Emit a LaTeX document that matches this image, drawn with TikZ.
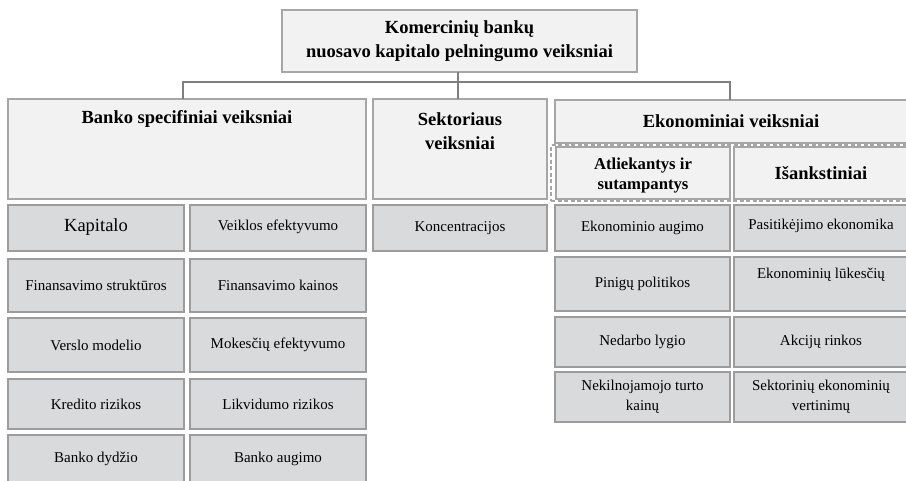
\documentclass[tikz,border=0pt]{standalone}
\usepackage{fontspec}
\setmainfont{Liberation Serif}
\definecolor{hdrfill}{HTML}{F2F2F2}
\definecolor{hdrline}{HTML}{A6A6A6}
\definecolor{cellfill}{HTML}{D9DADC}
\definecolor{cellline}{HTML}{9C9C9C}
\definecolor{connline}{HTML}{7F7F7F}
\begin{document}
\begin{tikzpicture}[x=1pt,y=-1pt,
  hdr/.style={draw=hdrline, fill=hdrfill, line width=1.2pt, inner sep=0pt,
    outer sep=0pt, align=center, font=\fontsize{18.5}{24}\selectfont\bfseries},
  subhdr/.style={hdr, font=\fontsize{16.7}{20}\selectfont\bfseries},
  cell/.style={draw=cellline, fill=cellfill, line width=1.3pt, inner sep=0pt,
    outer sep=0pt, align=center, font=\fontsize{15}{19.5}\selectfont},
  htext/.style={inner sep=0pt, align=center, font=\fontsize{18.5}{24}\selectfont\bfseries},
  ctext/.style={inner sep=0pt, align=center, font=\fontsize{15}{19.5}\selectfont},
  conn/.style={draw=connline, line width=1.6pt},
  grpframe/.style={draw=hdrline, line width=1.2pt, dash pattern=on 4pt off 2.5pt}]
\useasboundingbox (0,0) rectangle (906,481);
\clip (0,0) rectangle (906,481);

% top-level box
\node[hdr, minimum width=355pt, minimum height=62pt] (top) at (459.5,41)
  {Komercinių bankų\\nuosavo kapitalo pelningumo veiksniai};

% group headers
\node[hdr, minimum width=358pt, minimum height=100pt] (banko) at (187,149) {};
\node[htext] (bankot) at (187,119) {Banko specifiniai veiksniai};
\node[hdr, minimum width=174pt, minimum height=100pt] (sekt) at (460,149) {};
\node[htext] (sektt) at (460,131) {Sektoriaus\\veiksniai};
\node[hdr, minimum width=352pt, minimum height=43pt] (ekon) at (731,121.5)
  {Ekonominiai veiksniai};
\node[subhdr, minimum width=174pt, minimum height=52pt] (atl) at (643,173) {};
\node[htext, font=\fontsize{16.7}{20}\selectfont\bfseries] (atlt) at (643,176)
  {Atliekantys ir\\sutampantys};
\node[hdr, minimum width=174pt, minimum height=52pt] (isank) at (821,173)
  {Išankstiniai};
\node[grpframe, minimum width=361pt, minimum height=56pt, inner sep=0pt] (grp)
  at (731.5,173) {};

% connectors
\coordinate (bus) at (458,82);
\draw[conn] (bus |- top.south) -- (bus);
\draw[conn] (bus) -| ([xshift=-4pt]banko.north);
\draw[conn] (bus) -- (bus |- sekt.north);
\draw[conn] (bus) -| ([xshift=-1pt]ekon.north);

% bank-specific factors
\node[cell, minimum width=176pt, minimum height=46pt] (b11) at (96,228) {};
\node[ctext, font=\fontsize{18.5}{22}\selectfont] (b11t) at (96,227) {Kapitalo};
\node[cell, minimum width=176pt, minimum height=46pt] (b12) at (278,228) {};
\node[ctext] (b12t) at (278,227) {Veiklos efektyvumo};
\node[cell, minimum width=176pt, minimum height=53pt] (b21) at (96,285.5) {Finansavimo struktūros};
\node[cell, minimum width=176pt, minimum height=53pt] (b22) at (278,285.5) {Finansavimo kainos};
\node[cell, minimum width=176pt, minimum height=54pt] (b31) at (96,345) {Verslo modelio};
\node[cell, minimum width=176pt, minimum height=54pt] (b32) at (278,345) {Mokesčių efektyvumo};
\node[cell, minimum width=176pt, minimum height=50pt] (b41) at (96,404) {Kredito rizikos};
\node[cell, minimum width=176pt, minimum height=50pt] (b42) at (278,404) {Likvidumo rizikos};
\node[cell, minimum width=176pt, minimum height=48pt] (b51) at (96,459) {Banko dydžio};
\node[cell, minimum width=176pt, minimum height=48pt] (b52) at (278,459) {Banko augimo};

% sector factors
\node[cell, minimum width=174pt, minimum height=46pt] (s1) at (460,228) {Koncentracijos};

% economic factors
\node[cell, minimum width=175pt, minimum height=46pt] (e11) at (642.5,228) {Ekonominio augimo};
\node[cell, minimum width=174pt, minimum height=46pt] (e12) at (821,228) {};
\node[ctext] (e12t) at (821,226) {Pasitikėjimo ekonomika};
\node[cell, minimum width=175pt, minimum height=54pt] (e21) at (642.5,284) {Pinigų politikos};
\node[cell, minimum width=174pt, minimum height=54pt] (e22) at (821,284) {};
\node[ctext] (e22t) at (821,275) {Ekonominių lūkesčių};
\node[cell, minimum width=175pt, minimum height=50pt] (e31) at (642.5,342) {Nedarbo lygio};
\node[cell, minimum width=174pt, minimum height=50pt] (e32) at (821,342) {Akcijų rinkos};
\node[cell, minimum width=175pt, minimum height=50pt] (e41) at (642.5,397)
  {Nekilnojamojo turto\\kainų};
\node[cell, minimum width=174pt, minimum height=50pt] (e42) at (821,397)
  {Sektorinių ekonominių\\vertinimų};
\end{tikzpicture}
\end{document}
